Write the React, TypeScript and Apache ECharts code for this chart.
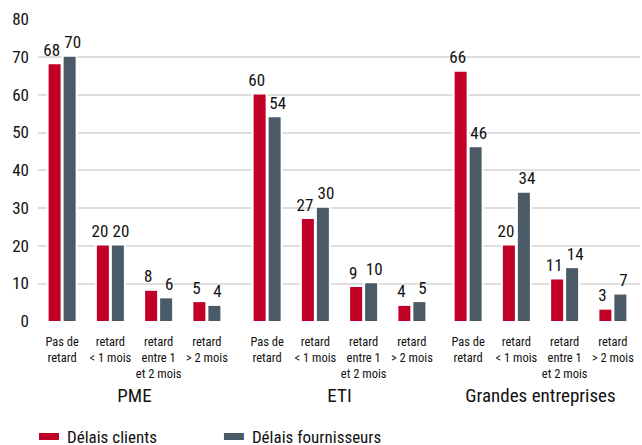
import React, { useEffect, useRef } from "react";
import * as echarts from "echarts";

const categories = [
  "Pas de\nretard",
  "retard\n< 1 mois",
  "retard\nentre 1\net 2 mois",
  "retard\n> 2 mois",
];
const groups = ["PME", "ETI", "Grandes entreprises"];
const seriesNames = ["Délais clients", "Délais fournisseurs"];
const clientsPME = [68, 20, 8, 5];
const clientsETI = [60, 27, 9, 4];
const clientsGE = [66, 20, 11, 3];
const fournPME = [70, 20, 6, 4];
const fournETI = [54, 30, 10, 5];
const fournGE = [46, 34, 14, 7];
const clients = [clientsPME, clientsETI, clientsGE];
const fournisseurs = [fournPME, fournETI, fournGE];
const yMin = 0;
const yMax = 80;
const yInterval = 10;

const FONT = "'Liberation Sans Narrow', 'Roboto Condensed', 'DejaVu Sans Condensed', sans-serif";
const RED = "#C00027";
const GREY = "#4B5A67";
const TEXT = "#111111";
const BAR_W = 12;
const BAR_GAP = 3;
const HALO = 2;

export default function App() {
  const ref = useRef<HTMLDivElement>(null);
  useEffect(() => {
    if (!ref.current) return;
    const chart = echarts.init(ref.current, undefined, { renderer: "svg" });
    const lefts = [38, 243, 444];
    const grids: any[] = [{ left: 38, right: 2, top: 19, bottom: 124 }];
    lefts.forEach((l) => grids.push({ left: l, width: 193, top: 19, bottom: 124 }));
    const xAxes: any[] = [{ gridIndex: 0, type: "value", show: false, min: 0, max: 1 }];
    const yAxes: any[] = [
      {
        gridIndex: 0,
        type: "value",
        min: yMin,
        max: yMax,
        interval: yInterval,
        axisLine: { show: false },
        axisTick: { show: false },
        axisLabel: { fontSize: 17, color: TEXT, margin: 9, fontFamily: FONT },
        splitLine: {
          show: true,
          showMinLine: false,
          showMaxLine: false,
          lineStyle: { color: "#d3d3d3", width: 1.5 },
        },
      },
    ];
    const series: any[] = [];
    groups.forEach((g, i) => {
      xAxes.push({
        gridIndex: i + 1,
        type: "category",
        data: categories,
        axisLine: { show: false },
        axisTick: { show: false },
        axisLabel: {
          fontSize: 12.5,
          lineHeight: 16,
          color: TEXT,
          margin: 12,
          fontFamily: FONT,
          interval: 0,
          verticalAlign: "top",
        },
        name: g,
        nameLocation: "middle",
        nameGap: 61,
        nameTextStyle: { fontSize: 19, color: TEXT, fontFamily: FONT },
      });
      yAxes.push({
        gridIndex: i + 1,
        type: "value",
        min: yMin,
        max: yMax,
        interval: yInterval,
        show: false,
        splitLine: { show: false },
      });
      // white halo behind each bar (interrupts the grid lines like in the reference)
      series.push({
        type: "custom",
        xAxisIndex: i + 1,
        yAxisIndex: i + 1,
        silent: true,
        z: 1,
        encode: { x: 0, y: [1, 2] },
        data: clients[i].map((v, k) => [k, v, fournisseurs[i][k]]),
        renderItem: (params: any, api: any) => {
          const cat = api.value(0);
          const base = api.coord([cat, 0]);
          const t1 = api.coord([cat, api.value(1)])[1];
          const t2 = api.coord([cat, api.value(2)])[1];
          const cx = base[0];
          const y0 = base[1];
          const total = BAR_W * 2 + BAR_GAP;
          const x1 = cx - total / 2;
          const x2 = x1 + BAR_W + BAR_GAP;
          return {
            type: "group",
            children: [
              {
                type: "rect",
                shape: { x: x1 - HALO, y: t1 - HALO, width: BAR_W + 2 * HALO, height: y0 - t1 + HALO },
                style: { fill: "#ffffff" },
              },
              {
                type: "rect",
                shape: { x: x2 - HALO, y: t2 - HALO, width: BAR_W + 2 * HALO, height: y0 - t2 + HALO },
                style: { fill: "#ffffff" },
              },
            ],
          };
        },
      });
      const mk = (name: string, data: number[], color: string, dx: number) => ({
        type: "bar",
        name,
        xAxisIndex: i + 1,
        yAxisIndex: i + 1,
        data,
        z: 2,
        barWidth: BAR_W,
        barGap: (BAR_GAP / BAR_W) * 100 + "%",
        itemStyle: { color },
        label: {
          show: true,
          position: "top",
          distance: 6,
          offset: [dx, 0],
          fontSize: 17,
          color: TEXT,
          fontFamily: FONT,
        },
      });
      series.push(mk(seriesNames[0], clients[i], RED, -3));
      series.push(mk(seriesNames[1], fournisseurs[i], GREY, 3));
    });
    chart.setOption({
      animation: false,
      color: [RED, GREY],
      grid: grids,
      xAxis: xAxes,
      yAxis: yAxes,
      legend: {
        data: seriesNames.map((n, k) => ({ name: n, itemStyle: { color: k === 0 ? RED : GREY, borderWidth: 0 } })),
        left: 39,
        top: 428,
        padding: 0,
        icon: "rect",
        itemWidth: 20,
        itemHeight: 7,
        itemGap: 67,
        textStyle: { fontSize: 17, color: TEXT, fontFamily: FONT, padding: [0, 0, 0, 3] },
      },
      series,
    });
    return () => chart.dispose();
  }, []);
  return (
    <div
      ref={ref}
      style={{ position: "fixed", left: 0, top: 0, width: 642, height: 445, background: "#fff" }}
    />
  );
}
